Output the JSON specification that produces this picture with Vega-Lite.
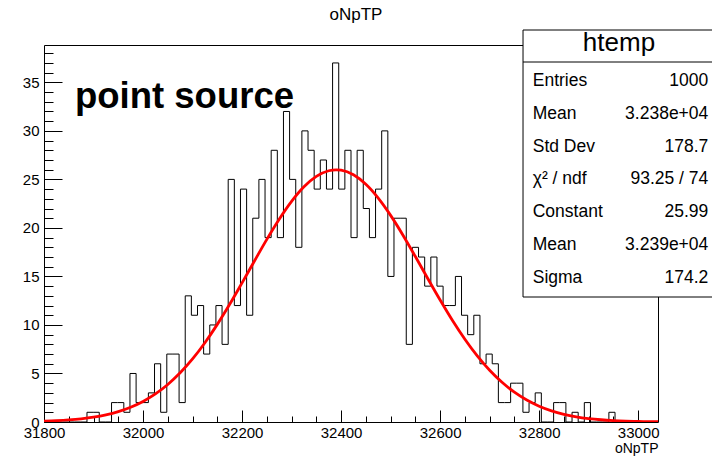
{
  "$schema": "https://vega.github.io/schema/vega-lite/v6.json",
  "width": 614,
  "height": 377,
  "autosize": {"type": "none"},
  "padding": {"left": 44, "top": 45, "right": 54, "bottom": 34},
  "background": "white",
  "config": {
    "font": "Liberation Sans",
    "view": {"stroke": "black", "strokeWidth": 1},
    "axis": {"grid": false, "domain": false, "labelColor": "black", "tickColor": "black", "titleColor": "black", "labelFont": "Liberation Sans", "titleFont": "Liberation Sans", "tickWidth": 1}
  },
  "title": {"text": "oNpTP", "fontSize": 17, "fontWeight": "normal", "font": "Liberation Sans", "color": "black", "anchor": "middle", "offset": 6, "dx": 5},
  "datasets": {
    "hist": [
      {"lo": 31800, "n": 0}, {"lo": 31812.4, "n": 0}, {"lo": 31824.8, "n": 0}, {"lo": 31837.2, "n": 0}, {"lo": 31849.6, "n": 0},
      {"lo": 31862, "n": 0}, {"lo": 31874.4, "n": 0}, {"lo": 31886.8, "n": 1}, {"lo": 31899.2, "n": 1}, {"lo": 31911.6, "n": 0},
      {"lo": 31924, "n": 0}, {"lo": 31936.4, "n": 2}, {"lo": 31948.8, "n": 2}, {"lo": 31961.2, "n": 1}, {"lo": 31973.6, "n": 5},
      {"lo": 31986, "n": 2}, {"lo": 31998.4, "n": 2}, {"lo": 32010.8, "n": 3}, {"lo": 32023.2, "n": 6}, {"lo": 32035.6, "n": 1},
      {"lo": 32048, "n": 7}, {"lo": 32060.4, "n": 7}, {"lo": 32072.8, "n": 2}, {"lo": 32085.2, "n": 13}, {"lo": 32097.6, "n": 11},
      {"lo": 32110, "n": 12}, {"lo": 32122.4, "n": 7}, {"lo": 32134.8, "n": 10}, {"lo": 32147.2, "n": 12}, {"lo": 32159.6, "n": 8},
      {"lo": 32172, "n": 25}, {"lo": 32184.4, "n": 12}, {"lo": 32196.8, "n": 24}, {"lo": 32209.2, "n": 11}, {"lo": 32221.6, "n": 21},
      {"lo": 32234, "n": 25}, {"lo": 32246.4, "n": 19}, {"lo": 32258.8, "n": 28}, {"lo": 32271.2, "n": 19}, {"lo": 32283.6, "n": 32},
      {"lo": 32296, "n": 25}, {"lo": 32308.4, "n": 18}, {"lo": 32320.8, "n": 30}, {"lo": 32333.2, "n": 28}, {"lo": 32345.6, "n": 24},
      {"lo": 32358, "n": 27}, {"lo": 32370.4, "n": 24}, {"lo": 32382.8, "n": 37}, {"lo": 32395.2, "n": 24}, {"lo": 32407.6, "n": 28},
      {"lo": 32420, "n": 19}, {"lo": 32432.4, "n": 28}, {"lo": 32444.8, "n": 22}, {"lo": 32457.2, "n": 19}, {"lo": 32469.6, "n": 24},
      {"lo": 32482, "n": 30}, {"lo": 32494.4, "n": 15}, {"lo": 32506.8, "n": 21}, {"lo": 32519.2, "n": 21}, {"lo": 32531.6, "n": 8},
      {"lo": 32544, "n": 18}, {"lo": 32556.4, "n": 17}, {"lo": 32568.8, "n": 14}, {"lo": 32581.2, "n": 17}, {"lo": 32593.6, "n": 14},
      {"lo": 32606, "n": 12}, {"lo": 32618.4, "n": 12}, {"lo": 32630.8, "n": 15}, {"lo": 32643.2, "n": 11}, {"lo": 32655.6, "n": 9},
      {"lo": 32668, "n": 11}, {"lo": 32680.4, "n": 6}, {"lo": 32692.8, "n": 7}, {"lo": 32705.2, "n": 6}, {"lo": 32717.6, "n": 2},
      {"lo": 32730, "n": 2}, {"lo": 32742.4, "n": 4}, {"lo": 32754.8, "n": 4}, {"lo": 32767.2, "n": 1}, {"lo": 32779.6, "n": 2},
      {"lo": 32792, "n": 3}, {"lo": 32804.4, "n": 0}, {"lo": 32816.8, "n": 0}, {"lo": 32829.2, "n": 2}, {"lo": 32841.6, "n": 2},
      {"lo": 32854, "n": 0}, {"lo": 32866.4, "n": 1}, {"lo": 32878.8, "n": 0}, {"lo": 32891.2, "n": 2}, {"lo": 32903.6, "n": 0},
      {"lo": 32916, "n": 0}, {"lo": 32928.4, "n": 0}, {"lo": 32940.8, "n": 1}, {"lo": 32953.2, "n": 0}, {"lo": 32965.6, "n": 0},
      {"lo": 32978, "n": 0}, {"lo": 32990.4, "n": 0}, {"lo": 33002.8, "n": 0}, {"lo": 33015.2, "n": 0}, {"lo": 33027.6, "n": 0},
      {"lo": 33040, "n": 0}
    ],
    "fit": [
      {"x": 31800, "f": 0.084}, {"x": 31825, "f": 0.135}, {"x": 31850, "f": 0.213}, {"x": 31875, "f": 0.329}, {"x": 31900, "f": 0.497},
      {"x": 31925, "f": 0.737}, {"x": 31950, "f": 1.070}, {"x": 31975, "f": 1.522}, {"x": 32000, "f": 2.121}, {"x": 32025, "f": 2.895},
      {"x": 32050, "f": 3.868}, {"x": 32075, "f": 5.068}, {"x": 32100, "f": 6.500}, {"x": 32125, "f": 8.171}, {"x": 32150, "f": 10.06},
      {"x": 32175, "f": 12.13}, {"x": 32200, "f": 14.34}, {"x": 32225, "f": 16.59}, {"x": 32250, "f": 18.82}, {"x": 32275, "f": 20.90},
      {"x": 32300, "f": 22.74}, {"x": 32325, "f": 24.24}, {"x": 32350, "f": 25.31}, {"x": 32375, "f": 25.89}, {"x": 32390, "f": 25.99},
      {"x": 32400, "f": 25.95}, {"x": 32425, "f": 25.47}, {"x": 32450, "f": 24.49}, {"x": 32475, "f": 23.07}, {"x": 32500, "f": 21.29},
      {"x": 32525, "f": 19.25}, {"x": 32550, "f": 17.05}, {"x": 32575, "f": 14.79}, {"x": 32600, "f": 12.57}, {"x": 32625, "f": 10.46},
      {"x": 32650, "f": 8.533}, {"x": 32675, "f": 6.817}, {"x": 32700, "f": 5.333}, {"x": 32725, "f": 4.090}, {"x": 32750, "f": 3.072},
      {"x": 32775, "f": 2.261}, {"x": 32800, "f": 1.629}, {"x": 32825, "f": 1.150}, {"x": 32850, "f": 0.796}, {"x": 32875, "f": 0.539},
      {"x": 32900, "f": 0.358}, {"x": 32925, "f": 0.233}, {"x": 32950, "f": 0.148}, {"x": 32975, "f": 0.0925}, {"x": 33000, "f": 0.0565},
      {"x": 33025, "f": 0.034}, {"x": 33040, "f": 0.026}
    ],
    "stats": [
      {"row": 1, "label": "Entries", "value": "1000"},
      {"row": 2, "label": "Mean", "value": "3.238e+04"},
      {"row": 3, "label": "Std Dev", "value": "178.7"},
      {"row": 4, "label": "χ² / ndf", "value": "93.25 / 74"},
      {"row": 5, "label": "Constant", "value": "25.99"},
      {"row": 6, "label": "Mean", "value": "3.239e+04"},
      {"row": 7, "label": "Sigma", "value": "174.2"}
    ]
  },
  "layer": [
    {
      "data": {"name": "hist"},
      "mark": {"type": "line", "interpolate": "step-after", "color": "black", "strokeWidth": 1},
      "encoding": {
        "x": {"field": "lo", "type": "quantitative", "scale": {"domain": [31800, 33040], "nice": false, "zero": false},
          "axis": {"orient": "bottom", "values": [31800, 32000, 32200, 32400, 32600, 32800, 33000], "format": "d", "tickSize": -12, "labelPadding": 15, "labelFontSize": 15, "labelFlush": false, "labelOverlap": false, "labelBound": false,
            "title": "oNpTP", "titleAnchor": "end", "titleAlign": "right", "titleFontSize": 14, "titleFontWeight": "normal", "titlePadding": 1}},
        "y": {"field": "n", "type": "quantitative", "scale": {"domain": [0, 38.85], "nice": false, "zero": true},
          "axis": {"orient": "left", "values": [0, 5, 10, 15, 20, 25, 30, 35], "format": "d", "tickSize": -18, "labelPadding": 23, "labelFontSize": 15, "title": null}}
      }
    },
    {
      "data": {"name": "fit"},
      "mark": {"type": "line", "interpolate": "monotone", "color": "#ff0000", "strokeWidth": 2.8, "clip": true},
      "encoding": {
        "x": {"field": "x", "type": "quantitative", "scale": {"domain": [31800, 33040], "nice": false, "zero": false},
          "axis": {"orient": "bottom", "values": [31850, 31900, 31950, 32050, 32100, 32150, 32250, 32300, 32350, 32450, 32500, 32550, 32650, 32700, 32750, 32850, 32900, 32950], "tickSize": -6, "labels": false, "title": null}},
        "y": {"field": "f", "type": "quantitative", "scale": {"domain": [0, 38.85], "nice": false, "zero": true},
          "axis": {"orient": "left", "values": [1, 2, 3, 4, 6, 7, 8, 9, 11, 12, 13, 14, 16, 17, 18, 19, 21, 22, 23, 24, 26, 27, 28, 29, 31, 32, 33, 34, 36, 37, 38], "tickSize": -9, "labels": false, "title": null}}
      }
    },
    {
      "data": {"values": [{"t": "point source"}]},
      "mark": {"type": "text", "fontSize": 36.5, "fontWeight": "bold", "align": "left", "baseline": "alphabetic", "color": "black"},
      "encoding": {
        "text": {"field": "t"},
        "x": {"datum": 31862.6, "type": "quantitative", "axis": null},
        "y": {"datum": 32.36, "type": "quantitative", "scale": {"domain": [0, 38.85], "nice": false}, "axis": null}
      }
    },
    {
      "data": {"values": [{}]},
      "mark": {"type": "rect", "fill": "white", "stroke": "black", "strokeWidth": 1},
      "encoding": {
        "x": {"datum": 32767.4, "type": "quantitative", "axis": null},
        "x2": {"datum": 33160},
        "y": {"datum": -0.555, "type": "quantitative", "scale": {"domain": [-0.098, 11.396], "nice": false, "zero": false, "reverse": true}, "axis": null},
        "y2": {"datum": 7.585}
      }
    },
    {
      "data": {"values": [{}]},
      "mark": {"type": "rule", "color": "black", "strokeWidth": 1},
      "encoding": {
        "x": {"datum": 32767.4, "type": "quantitative", "axis": null},
        "x2": {"datum": 33160},
        "y": {"datum": 0.4207, "type": "quantitative", "scale": {"domain": [-0.098, 11.396], "nice": false, "zero": false, "reverse": true}, "axis": null}
      }
    },
    {
      "data": {"values": [{"t": "htemp"}]},
      "mark": {"type": "text", "fontSize": 26, "align": "center", "baseline": "middle", "color": "black"},
      "encoding": {
        "text": {"field": "t"},
        "x": {"datum": 32961.2, "type": "quantitative", "axis": null},
        "y": {"datum": -0.159, "type": "quantitative", "scale": {"domain": [-0.098, 11.396], "nice": false, "zero": false, "reverse": true}, "axis": null}
      }
    },
    {
      "data": {"name": "stats"},
      "mark": {"type": "text", "fontSize": 17.5, "align": "left", "baseline": "middle", "color": "black"},
      "encoding": {
        "text": {"field": "label"},
        "x": {"datum": 32787, "type": "quantitative", "axis": null},
        "y": {"field": "row", "type": "quantitative", "scale": {"domain": [-0.098, 11.396], "nice": false, "zero": false, "reverse": true}, "axis": null}
      }
    },
    {
      "data": {"name": "stats"},
      "mark": {"type": "text", "fontSize": 17.5, "align": "right", "baseline": "middle", "color": "black"},
      "encoding": {
        "text": {"field": "value"},
        "x": {"datum": 33141.6, "type": "quantitative", "axis": null},
        "y": {"field": "row", "type": "quantitative", "scale": {"domain": [-0.098, 11.396], "nice": false, "zero": false, "reverse": true}, "axis": null}
      }
    }
  ],
  "resolve": {"scale": {"y": "independent"}, "axis": {"x": "independent", "y": "independent"}}
}
